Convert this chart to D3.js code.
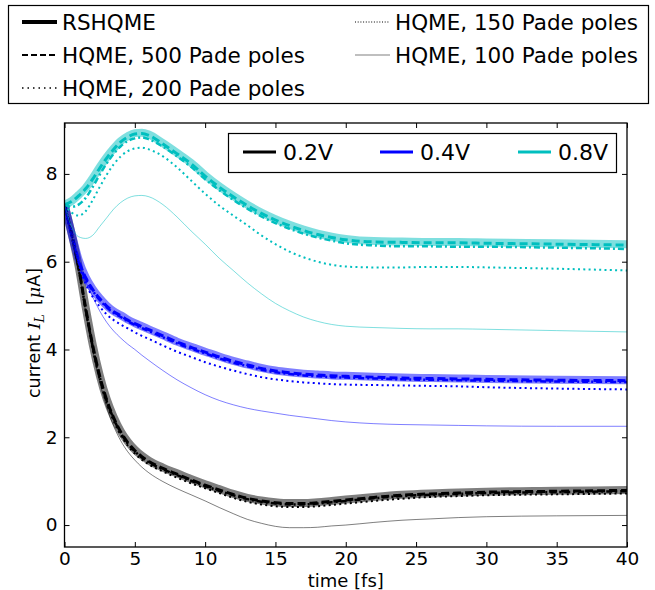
<!DOCTYPE html>
<html>
<head>
<meta charset="utf-8">
<script src="https://cdn.jsdelivr.net/npm/d3@7"></script>
<style>
  html, body { margin: 0; padding: 0; background: #fff; }
  svg { display: block; font-family: "DejaVu Sans", sans-serif; }
</style>
</head>
<body>
<svg id="chart" width="655" height="590"></svg>
<script>
// ---------------- data ----------------
const times = [0,0.5,1,1.5,2,2.5,3,3.5,4,4.5,5,5.5,6,7,8,9,10,11,12,13,14,15,16,17,18,19,20,22,24,26,28,30,35,40];

// 0.8 V (cyan)
const c_rs  = [7.30,7.38,7.52,7.68,7.90,8.15,8.38,8.58,8.75,8.86,8.93,8.94,8.90,8.70,8.48,8.25,7.97,7.72,7.50,7.30,7.12,6.97,6.84,6.73,6.64,6.57,6.52,6.47,6.46,6.45,6.45,6.44,6.42,6.40];
const c_500 = [7.30,7.37,7.50,7.66,7.88,8.13,8.36,8.56,8.73,8.84,8.91,8.92,8.88,8.68,8.46,8.23,7.95,7.70,7.48,7.28,7.10,6.95,6.82,6.71,6.62,6.55,6.50,6.45,6.44,6.43,6.43,6.42,6.40,6.38];
const c_200 = [7.30,7.25,7.30,7.45,7.70,7.98,8.24,8.46,8.63,8.75,8.81,8.83,8.79,8.62,8.40,8.16,7.88,7.63,7.41,7.21,7.03,6.88,6.75,6.64,6.55,6.48,6.42,6.37,6.35,6.35,6.34,6.34,6.32,6.29];
const c_150 = [7.30,7.12,7.05,7.15,7.40,7.70,7.98,8.22,8.40,8.52,8.58,8.60,8.56,8.40,8.15,7.85,7.55,7.28,7.05,6.83,6.60,6.40,6.23,6.10,6.00,5.93,5.89,5.87,5.87,5.88,5.88,5.87,5.84,5.80];
const c_100 = [7.30,6.80,6.57,6.53,6.60,6.80,7.00,7.20,7.35,7.45,7.50,7.51,7.48,7.30,7.02,6.70,6.40,6.08,5.80,5.52,5.27,5.05,4.88,4.74,4.64,4.57,4.53,4.50,4.48,4.47,4.47,4.46,4.43,4.40];

// 0.4 V (blue)
const b_rs  = [7.30,6.65,6.05,5.65,5.38,5.17,5.00,4.87,4.78,4.68,4.60,4.53,4.46,4.32,4.18,4.06,3.95,3.84,3.74,3.66,3.58,3.52,3.48,3.45,3.43,3.41,3.40,3.38,3.36,3.35,3.34,3.33,3.31,3.30];
const b_500 = [7.30,6.64,6.04,5.64,5.37,5.16,4.99,4.86,4.77,4.67,4.59,4.52,4.45,4.31,4.17,4.05,3.94,3.83,3.73,3.65,3.57,3.51,3.47,3.44,3.42,3.40,3.39,3.37,3.35,3.34,3.33,3.32,3.30,3.29];
const b_200 = [7.30,6.62,6.01,5.61,5.34,5.13,4.96,4.83,4.74,4.64,4.56,4.49,4.42,4.28,4.14,4.02,3.91,3.80,3.70,3.62,3.54,3.48,3.44,3.41,3.39,3.37,3.36,3.34,3.32,3.31,3.30,3.29,3.27,3.26];
const b_150 = [7.30,6.60,5.95,5.50,5.20,4.98,4.80,4.67,4.57,4.48,4.39,4.31,4.24,4.09,3.95,3.83,3.71,3.61,3.52,3.44,3.37,3.32,3.28,3.25,3.23,3.21,3.20,3.19,3.18,3.17,3.16,3.14,3.11,3.09];
const b_100 = [7.30,6.55,5.95,5.55,5.20,4.88,4.62,4.42,4.26,4.12,4.00,3.87,3.75,3.52,3.31,3.13,2.97,2.84,2.74,2.66,2.60,2.55,2.50,2.46,2.42,2.38,2.35,2.31,2.29,2.28,2.27,2.26,2.25,2.25];

// 0.2 V (black)
const k_rs  = [7.30,6.65,5.90,4.97,4.12,3.42,2.87,2.46,2.14,1.90,1.72,1.58,1.47,1.31,1.18,1.05,0.93,0.82,0.71,0.62,0.56,0.52,0.50,0.50,0.52,0.55,0.58,0.64,0.69,0.72,0.74,0.76,0.78,0.80];
const k_500 = [7.30,6.64,5.88,4.95,4.10,3.40,2.85,2.44,2.12,1.88,1.70,1.56,1.45,1.29,1.16,1.03,0.91,0.80,0.70,0.61,0.55,0.51,0.49,0.49,0.51,0.54,0.57,0.63,0.68,0.71,0.73,0.75,0.77,0.79];
const k_200 = [7.30,6.63,5.86,4.93,4.08,3.38,2.83,2.42,2.10,1.86,1.68,1.54,1.43,1.27,1.14,1.01,0.89,0.78,0.68,0.59,0.53,0.49,0.47,0.47,0.49,0.52,0.55,0.61,0.66,0.69,0.71,0.73,0.75,0.77];
const k_150 = [7.30,6.62,5.85,4.90,4.04,3.33,2.78,2.37,2.05,1.81,1.63,1.49,1.38,1.22,1.08,0.95,0.84,0.73,0.62,0.53,0.47,0.43,0.41,0.41,0.43,0.46,0.49,0.55,0.60,0.64,0.66,0.68,0.70,0.72];
const k_100 = [7.30,6.60,5.82,4.86,3.98,3.26,2.69,2.25,1.92,1.67,1.48,1.32,1.19,0.99,0.83,0.69,0.55,0.40,0.26,0.13,0.04,-0.03,-0.06,-0.06,-0.05,-0.02,0.00,0.06,0.11,0.14,0.17,0.19,0.21,0.22];

const voltages = ["0.2V", "0.4V", "0.8V"];
const methods = ["RSHQME", "HQME, 500 Pade poles", "HQME, 200 Pade poles", "HQME, 150 Pade poles", "HQME, 100 Pade poles"];
const xTicks = [0,5,10,15,20,25,30,35,40];
const yTicks = [0,2,4,6,8];

// ---------------- styles ----------------
const voltColor = {"0.2V": "#000000", "0.4V": "#0000ff", "0.8V": "#00bfbf"};
const methodStyle = {
  "RSHQME":               {w: 8,   dash: null,        op: 0.5},
  "HQME, 500 Pade poles": {w: 3,   dash: "8,4",       op: 1},
  "HQME, 200 Pade poles": {w: 2.5, dash: "6,3,2,3",   op: 1},
  "HQME, 150 Pade poles": {w: 2,   dash: "2,3.3",     op: 1},
  "HQME, 100 Pade poles": {w: 1,   dash: null,        op: 0.5}
};
const seriesTable = {
  "0.2V": [k_rs, k_500, k_200, k_150, k_100],
  "0.4V": [b_rs, b_500, b_200, b_150, b_100],
  "0.8V": [c_rs, c_500, c_200, c_150, c_100]
};

// ---------------- chart ----------------
const svg = d3.select("#chart");
const L = 64.5, R = 627, T = 123, B = 547;
const x = d3.scaleLinear().domain([0, 40]).range([L, R]);
const y = d3.scaleLinear().domain([-0.5, 9.16]).range([B, T]);

svg.append("defs").append("clipPath").attr("id", "plotclip")
  .append("rect").attr("x", L).attr("y", T).attr("width", R - L).attr("height", B - T);

const line = d3.line().x(d => x(d[0])).y(d => y(d[1])).curve(d3.curveMonotoneX);
const plot = svg.append("g").attr("clip-path", "url(#plotclip)");

methods.forEach((m, mi) => {
  voltages.forEach(v => {
    const st = methodStyle[m];
    const vals = seriesTable[v][mi];
    plot.append("path")
      .attr("d", line(times.map((t, i) => [t, vals[i]])))
      .attr("fill", "none")
      .attr("stroke", voltColor[v])
      .attr("stroke-opacity", st.op)
      .attr("stroke-width", st.w)
      .attr("stroke-dasharray", st.dash)
      .attr("stroke-linejoin", "round");
  });
});

// axes
const fontTick = 18.5;
const gx = svg.append("g").attr("transform", `translate(0,${B})`)
  .call(d3.axisBottom(x).tickValues(xTicks).tickSizeInner(-5).tickSizeOuter(0).tickPadding(5).tickFormat(d3.format("d")));
const gxt = svg.append("g").attr("transform", `translate(0,${T})`)
  .call(d3.axisTop(x).tickValues(xTicks).tickSizeInner(-5).tickSizeOuter(0).tickFormat(""));
const gy = svg.append("g").attr("transform", `translate(${L},0)`)
  .call(d3.axisLeft(y).tickValues(yTicks).tickSizeInner(-5).tickSizeOuter(0).tickPadding(7).tickFormat(d3.format("d")));
const gyr = svg.append("g").attr("transform", `translate(${R},0)`)
  .call(d3.axisRight(y).tickValues(yTicks).tickSizeInner(-5).tickSizeOuter(0).tickFormat(""));
[gx, gxt, gy, gyr].forEach(g => {
  g.select(".domain").remove();
  g.selectAll(".tick line").attr("stroke", "#000").attr("stroke-width", 1);
  g.selectAll("text").attr("font-size", fontTick).attr("font-family", "DejaVu Sans").attr("fill", "#000");
});
svg.append("rect").attr("x", L).attr("y", T).attr("width", R - L).attr("height", B - T)
  .attr("fill", "none").attr("stroke", "#000").attr("stroke-width", 1.3);

// axis labels
svg.append("text").attr("x", (L + R) / 2).attr("y", 587).attr("text-anchor", "middle")
  .attr("font-size", 18).text("time [fs]");
const yl = svg.append("text").attr("transform", `translate(40,${(T + B) / 2 - 2}) rotate(-90)`)
  .attr("text-anchor", "middle").attr("font-size", 17.5);
yl.append("tspan").text("current ");
yl.append("tspan").attr("font-style", "italic").attr("font-family", "DejaVu Serif").text("I");
yl.append("tspan").attr("font-style", "italic").attr("font-family", "DejaVu Serif").attr("font-size", 12.5).attr("dy", 4).text("L");
yl.append("tspan").attr("dy", -4).text(" \u2009[");
yl.append("tspan").attr("font-style", "italic").attr("font-family", "DejaVu Serif").text("\u03bc");
yl.append("tspan").text("A]");

// voltage legend (inside)
const vl = svg.append("g");
vl.append("rect").attr("x", 228.5).attr("y", 133.5).attr("width", 388).attr("height", 39)
  .attr("fill", "#fff").attr("stroke", "#000").attr("stroke-width", 1.2);
const vx = [243, 380, 518];
voltages.forEach((v, i) => {
  vl.append("line").attr("x1", vx[i]).attr("x2", vx[i] + 33).attr("y1", 152).attr("y2", 152)
    .attr("stroke", voltColor[v]).attr("stroke-width", 3);
  vl.append("text").attr("x", vx[i] + 40).attr("y", 160).attr("font-size", 22).text(v);
});

// method legend (top)
const ml = svg.append("g");
ml.append("rect").attr("x", 8.5).attr("y", 5.5).attr("width", 640).attr("height", 98)
  .attr("fill", "#fff").attr("stroke", "#000").attr("stroke-width", 1.2);
const legendStyle = {
  "RSHQME":               {w: 4,   dash: null,      op: 1},
  "HQME, 500 Pade poles": {w: 2,   dash: "6,3",     op: 1},
  "HQME, 200 Pade poles": {w: 1.5, dash: "1.5,4",   op: 1},
  "HQME, 150 Pade poles": {w: 1,   dash: "1,1.7",   op: 1},
  "HQME, 100 Pade poles": {w: 1,   dash: null,      op: 0.5}
};
const mPos = [[22, 22], [22, 55], [22, 88], [355, 22], [355, 55]];
methods.forEach((m, i) => {
  const [lx, ly] = mPos[i];
  const st = legendStyle[m];
  ml.append("line").attr("x1", lx).attr("x2", lx + 35).attr("y1", ly).attr("y2", ly)
    .attr("stroke", "#000").attr("stroke-opacity", st.op).attr("stroke-width", st.w)
    .attr("stroke-dasharray", st.dash);
  ml.append("text").attr("x", lx + 40).attr("y", ly + 8).attr("font-size", 21.5).text(m);
});
</script>
</body>
</html>
